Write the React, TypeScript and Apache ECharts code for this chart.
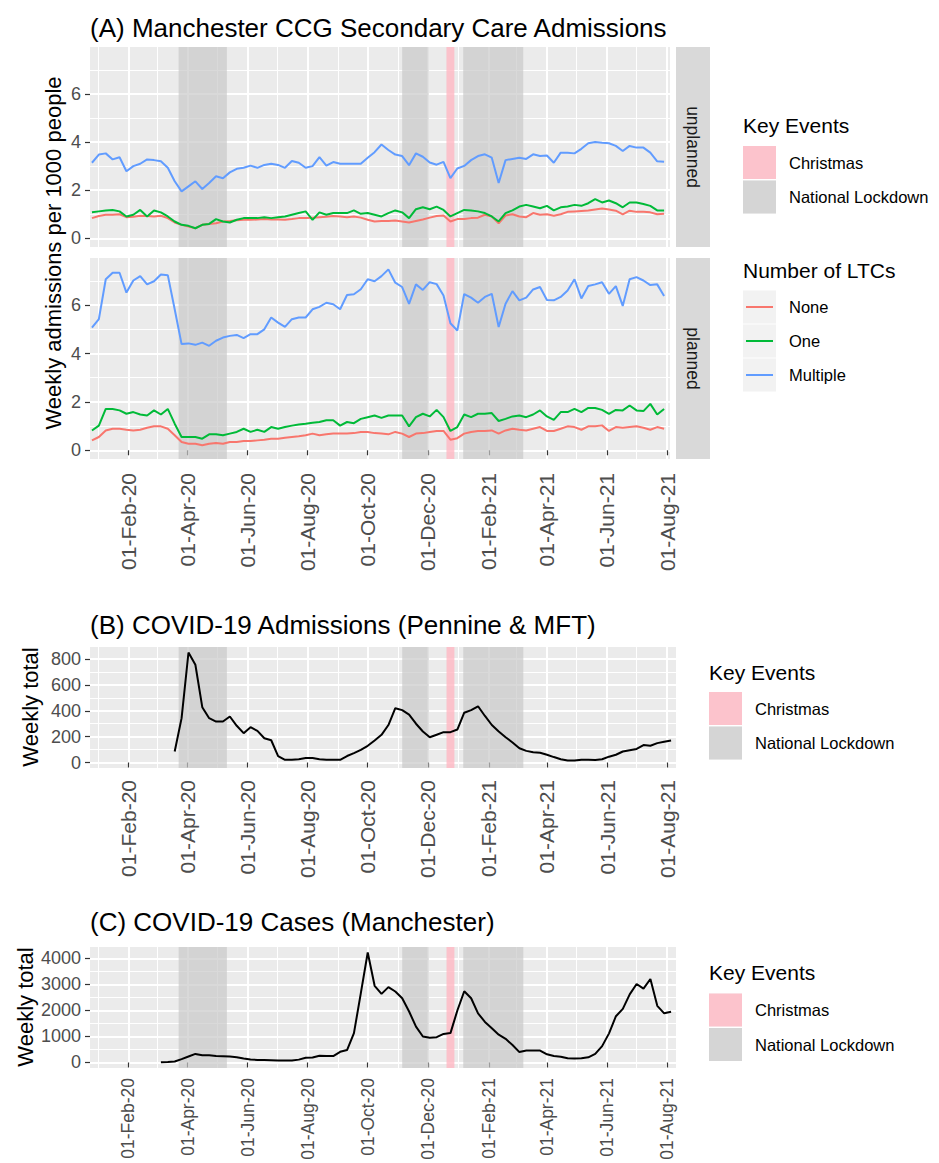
import React, { useEffect, useRef } from "react";
import * as echarts from "echarts";

const FONT = "'Liberation Sans', Arial, Helvetica, sans-serif";

// ---------- data ----------
// weekly series: first week of each series
const weekStartA = "2019-12-26";
const weekStartB = "2020-03-19";
const weekStartC = "2020-03-05";

// (A) unplanned admissions per 1000 people
const unplannedNone = [
  0.84, 0.93, 0.98, 0.98, 1.0, 0.88, 0.9, 0.94, 0.93, 0.91,
  0.94, 0.84, 0.66, 0.56, 0.49, 0.42, 0.56, 0.6, 0.63, 0.7,
  0.72, 0.75, 0.77, 0.77, 0.78, 0.8, 0.78, 0.78, 0.77, 0.8,
  0.84, 0.84, 0.86, 0.88, 0.9, 0.93, 0.91, 0.88, 0.91, 0.86,
  0.77, 0.7, 0.72, 0.72, 0.74, 0.7, 0.66, 0.72, 0.78, 0.86,
  0.93, 0.95, 0.7, 0.8, 0.8, 0.84, 0.86, 0.98, 0.91, 0.62,
  0.95, 1.0, 0.91, 0.88, 1.05, 0.98, 1.0, 0.94, 1.0, 1.1,
  1.12, 1.14, 1.16, 1.2, 1.24, 1.2, 1.15, 1.0, 1.15, 1.1,
  1.1, 1.08, 1.0, 1.02,
];
const unplannedOne = [
  1.08, 1.12, 1.16, 1.18, 1.12, 0.91, 0.98, 1.18, 0.91, 1.16,
  1.08, 0.91, 0.7, 0.56, 0.52, 0.42, 0.56, 0.6, 0.8, 0.7,
  0.66, 0.77, 0.84, 0.84, 0.84, 0.88, 0.84, 0.88, 0.91, 0.98,
  1.05, 1.12, 0.77, 1.08, 0.98, 1.05, 1.05, 1.05, 1.16, 1.02,
  1.05, 0.98, 0.91, 1.05, 1.16, 1.08, 0.84, 1.21, 1.29, 1.21,
  1.32, 1.18, 0.91, 1.05, 1.18, 1.16, 1.12, 1.05, 0.91, 0.7,
  1.05, 1.16, 1.32, 1.39, 1.32, 1.25, 1.35, 1.16, 1.29, 1.32,
  1.39, 1.35, 1.46, 1.63, 1.49, 1.57, 1.46, 1.29, 1.49, 1.49,
  1.43, 1.35, 1.16, 1.16,
];
const unplannedMultiple = [
  3.14, 3.48, 3.53, 3.28, 3.37, 2.79, 3.0, 3.1, 3.28, 3.25,
  3.2, 2.93, 2.37, 1.95, 2.16, 2.37, 2.05, 2.3, 2.58, 2.5,
  2.74, 2.89, 2.93, 3.02, 2.93, 3.05, 3.1, 3.05, 2.93, 3.21,
  3.14, 2.93, 3.0, 3.37, 3.02, 3.17, 3.1, 3.1, 3.1, 3.1,
  3.35, 3.58, 3.9, 3.67, 3.48, 3.42, 3.04, 3.53, 3.39, 3.15,
  3.06, 3.18, 2.5, 2.9, 3.01, 3.25, 3.42, 3.49, 3.35, 2.3,
  3.25, 3.3, 3.35, 3.3, 3.49, 3.42, 3.44, 3.14, 3.56, 3.56,
  3.53, 3.72, 3.95, 4.0, 3.97, 3.95, 3.84, 3.63, 3.84, 3.77,
  3.77, 3.56, 3.2, 3.18,
];

// (A) planned admissions per 1000 people
const plannedNone = [
  0.41, 0.55, 0.82, 0.89, 0.89, 0.85, 0.82, 0.85, 0.93, 0.99,
  0.99, 0.89, 0.62, 0.34, 0.27, 0.27, 0.21, 0.27, 0.3, 0.27,
  0.34, 0.34, 0.38, 0.38, 0.41, 0.44, 0.48, 0.48, 0.52, 0.55,
  0.58, 0.62, 0.69, 0.62, 0.66, 0.69, 0.69, 0.69, 0.71, 0.76,
  0.76, 0.71, 0.69, 0.66, 0.76, 0.69, 0.55, 0.69, 0.71, 0.76,
  0.8, 0.8, 0.44, 0.5, 0.69, 0.76, 0.8, 0.8, 0.82, 0.69,
  0.82, 0.89, 0.85, 0.82, 0.89, 0.96, 0.8, 0.8, 0.89, 0.99,
  0.96, 0.85, 0.99, 0.99, 1.03, 0.8, 0.96, 0.93, 0.96, 0.99,
  0.93, 0.85, 0.96, 0.89,
];
const plannedOne = [
  0.82, 1.02, 1.71, 1.71, 1.65, 1.51, 1.58, 1.48, 1.44, 1.65,
  1.48, 1.71, 1.1, 0.55, 0.55, 0.55, 0.48, 0.66, 0.66, 0.62,
  0.69, 0.76, 0.89, 0.76, 0.85, 0.76, 0.96, 0.89, 0.96, 1.02,
  1.07, 1.1, 1.14, 1.17, 1.24, 1.24, 1.02, 1.17, 1.12, 1.3,
  1.37, 1.44, 1.34, 1.44, 1.44, 1.44, 0.99, 1.37, 1.51, 1.4,
  1.67, 1.37, 0.8, 0.96, 1.48, 1.37, 1.51, 1.51, 1.54, 1.21,
  1.3, 1.4, 1.44, 1.37, 1.48, 1.65, 1.4, 1.26, 1.58, 1.58,
  1.71, 1.58, 1.75, 1.75, 1.67, 1.51, 1.67, 1.65, 1.85, 1.65,
  1.62, 1.92, 1.48, 1.71,
];
const plannedMultiple = [
  5.07, 5.42, 7.07, 7.34, 7.34, 6.52, 7.02, 7.2, 6.86, 6.99,
  7.27, 7.24, 5.83, 4.39, 4.42, 4.36, 4.45, 4.32, 4.53, 4.66,
  4.73, 4.77, 4.64, 4.8, 4.8, 5.0, 5.49, 5.28, 5.1, 5.42,
  5.49, 5.49, 5.83, 5.93, 6.1, 6.04, 5.83, 6.42, 6.45, 6.66,
  7.07, 6.99, 7.2, 7.48, 6.93, 6.75, 6.05, 6.86, 6.63, 6.95,
  6.87, 6.4, 5.25, 4.95, 6.46, 6.31, 6.1, 6.34, 6.47, 5.1,
  6.06, 6.58, 6.2, 6.31, 6.65, 6.75, 6.21, 6.2, 6.34, 6.61,
  7.07, 6.28, 6.79, 6.86, 6.95, 6.47, 6.79, 5.97, 7.07, 7.16,
  7.02, 6.83, 6.86, 6.38,
];

// (B) weekly COVID-19 admissions (Pennine & MFT)
const covidAdmissions = [
  85, 343, 851, 756, 428, 343, 317, 317, 356, 284,
  227, 273, 245, 188, 172, 50, 21, 21, 26, 34,
  34, 26, 21, 21, 21, 50, 72, 98, 129, 170,
  214, 290, 420, 405, 370, 300, 240, 195, 215, 235,
  235, 255, 385, 405, 435, 360, 290, 240, 195, 155,
  110, 90, 80, 75, 60, 42, 25, 15, 15, 22,
  22, 20, 25, 45, 60, 85, 95, 105, 135, 130,
  150, 160, 170,
];

// (C) weekly COVID-19 cases (Manchester)
const covidCases = [
  10, 20, 40, 130, 230, 330, 280, 280, 250, 240,
  230, 200, 150, 115, 100, 100, 90, 75, 75, 75,
  110, 180, 190, 260, 245, 245, 410, 480, 1130, 2670,
  4230, 2950, 2640, 2900, 2730, 2470, 1960, 1380, 1000, 950,
  975, 1100, 1130, 2000, 2740, 2470, 1890, 1560, 1320, 1070,
  910, 670, 400, 460, 460, 460, 315, 250, 220, 160,
  150, 160, 200, 330, 630, 1120, 1780, 2060, 2620, 3020,
  2840, 3210, 2180, 1890, 1950,
];

// axes
const xMajorTicks = [
  "2020-02-01", "2020-04-01", "2020-06-01", "2020-08-01", "2020-10-01",
  "2020-12-01", "2021-02-01", "2021-04-01", "2021-06-01", "2021-08-01",
];
const xMinorTicks = [
  "2020-01-01", "2020-03-01", "2020-05-01", "2020-07-01", "2020-09-01",
  "2020-11-01", "2021-01-01", "2021-03-01", "2021-05-01", "2021-07-01",
];
const xRangeA = ["2019-12-24", "2021-08-04"];
const xRangeBC = ["2019-12-24", "2021-08-10"];
const yTicksA = [0, 2, 4, 6];
const yMinorA = [1, 3, 5, 7];
const yRangeA = [-0.36, 7.95];
const yTicksB = [0, 200, 400, 600, 800];
const yMinorB = [100, 300, 500, 700];
const yRangeB = [-42.5, 893.5];
const yTicksC = [0, 1000, 2000, 3000, 4000];
const yMinorC = [500, 1500, 2500, 3500];
const yRangeC = [-212, 4442];

// key events
const christmasPeriods = [["2020-12-20", "2020-12-28"]];
const lockdownPeriods = [
  ["2020-03-23", "2020-05-11"],
  ["2020-11-05", "2020-12-02"],
  ["2021-01-06", "2021-03-08"],
];

const ltcNames = ["None", "One", "Multiple"];
const ltcColors = ["#F8766D", "#00BA38", "#619CFF"];
const eventNames = ["Christmas", "National Lockdown"];
const PINK = "rgba(255,182,193,0.78)";
const LOCK = "rgba(201,201,201,0.7)";
const eventColors = [PINK, LOCK];
const facetNames = ["unplanned", "planned"];

const titles = [
  "(A) Manchester CCG Secondary Care Admissions",
  "(B) COVID-19 Admissions (Pennine & MFT)",
  "(C) COVID-19 Cases (Manchester)",
];
const yTitles = ["Weekly admissions per 1000 people", "Weekly total", "Weekly total"];

// ---------- helpers ----------
const DAY = 86400000;
const t = (s: string) => Date.parse(s + "T00:00:00Z");
const weekly = (start: string, values: number[]) =>
  values.map((v, i) => [t(start) + i * 7 * DAY, v]);
const MONTHS = ["Jan", "Feb", "Mar", "Apr", "May", "Jun", "Jul", "Aug", "Sep", "Oct", "Nov", "Dec"];
const fmtDate = (v: number) => {
  const d = new Date(v);
  return `${String(d.getUTCDate()).padStart(2, "0")}-${MONTHS[d.getUTCMonth()]}-${String(
    d.getUTCFullYear() % 100
  ).padStart(2, "0")}`;
};

function buildOption() {
  const panels = [
    { left: 90, top: 47, width: 580, height: 200, xr: xRangeA, yr: yRangeA, yt: yTicksA, ym: yMinorA, xLabels: false, margin: 14, xFont: 21 },
    { left: 90, top: 258, width: 580, height: 201, xr: xRangeA, yr: yRangeA, yt: yTicksA, ym: yMinorA, xLabels: true, margin: 14, xFont: 21 },
    { left: 90, top: 647, width: 586, height: 121, xr: xRangeBC, yr: yRangeB, yt: yTicksB, ym: yMinorB, xLabels: true, margin: 12, xFont: 21 },
    { left: 90, top: 947, width: 586, height: 121, xr: xRangeBC, yr: yRangeC, yt: yTicksC, ym: yMinorC, xLabels: true, margin: 10, xFont: 17.5 },
  ];

  const grid: any[] = [];
  const xAxis: any[] = [];
  const yAxis: any[] = [];
  const series: any[] = [];

  panels.forEach((p, g) => {
    grid.push({
      left: p.left, top: p.top, width: p.width, height: p.height,
      show: true, backgroundColor: "#EBEBEB", borderWidth: 0,
      containLabel: false, outerBoundsMode: "none",
    });
    const majorX = xMajorTicks.map(t);
    const minorX = xMinorTicks.map(t);
    xAxis.push({
      type: "value", gridIndex: g, min: t(p.xr[0]), max: t(p.xr[1]), position: "bottom",
      axisLine: { show: false },
      axisTick: { show: p.xLabels, length: 5, lineStyle: { color: "#333333", width: 1.2 }, customValues: majorX },
      axisLabel: {
        show: p.xLabels, customValues: majorX, rotate: 90, margin: p.margin, formatter: fmtDate,
        color: "#4D4D4D", fontSize: p.xFont, fontFamily: FONT,
      },
      splitLine: { show: true, lineStyle: { color: "#FFFFFF", width: 2 } },
    });
    xAxis.push({
      type: "value", gridIndex: g, min: t(p.xr[0]), max: t(p.xr[1]), position: "bottom",
      axisLine: { show: false },
      axisTick: { show: false, customValues: minorX },
      axisLabel: { show: false, customValues: minorX },
      splitLine: { show: true, lineStyle: { color: "#FFFFFF", width: 1 } },
    });
    yAxis.push({
      type: "value", gridIndex: g, min: p.yr[0], max: p.yr[1], position: "left",
      axisLine: { show: false },
      axisTick: { show: true, length: 5, lineStyle: { color: "#333333", width: 1.2 }, customValues: p.yt },
      axisLabel: {
        show: true, customValues: p.yt, margin: 9, color: "#4D4D4D", fontSize: 18, fontFamily: FONT,
        formatter: (v: number) => String(v),
      },
      splitLine: { show: true, lineStyle: { color: "#FFFFFF", width: 2 } },
    });
    yAxis.push({
      type: "value", gridIndex: g, min: p.yr[0], max: p.yr[1], position: "left",
      axisLine: { show: false },
      axisTick: { show: false, customValues: p.ym },
      axisLabel: { show: false, customValues: p.ym },
      splitLine: { show: true, lineStyle: { color: "#FFFFFF", width: 1 } },
    });
    // key event shading
    series.push({
      type: "line", xAxisIndex: 2 * g, yAxisIndex: 2 * g, data: [], silent: true, z: 1,
      markArea: {
        silent: true,
        data: [
          ...christmasPeriods.map(([a, b]) => [{ xAxis: t(a), itemStyle: { color: PINK } }, { xAxis: t(b) }]),
          ...lockdownPeriods.map(([a, b]) => [{ xAxis: t(a), itemStyle: { color: LOCK } }, { xAxis: t(b) }]),
        ],
      },
    });
  });

  const lineSeries = (g: number, data: number[][], color: string, name: string) => ({
    type: "line", name, xAxisIndex: 2 * g, yAxisIndex: 2 * g, data, showSymbol: false, symbol: "none",
    lineStyle: { color, width: 2 }, itemStyle: { color }, silent: true, z: 3,
  });

  const unplanned = [unplannedNone, unplannedOne, unplannedMultiple];
  const planned = [plannedNone, plannedOne, plannedMultiple];
  unplanned.forEach((vals, k) => series.push(lineSeries(0, weekly(weekStartA, vals), ltcColors[k], ltcNames[k])));
  planned.forEach((vals, k) => series.push(lineSeries(1, weekly(weekStartA, vals), ltcColors[k], ltcNames[k])));
  series.push(lineSeries(2, weekly(weekStartB, covidAdmissions), "#000000", "Admissions"));
  series.push(lineSeries(3, weekly(weekStartC, covidCases), "#000000", "Cases"));

  // ---------- graphic: titles, axis titles, strips, legends ----------
  const txt = (x: number, y: number, text: string, size: number, color = "#000000", align = "left", rotation = 0) => ({
    type: "text", x, y, rotation, silent: true,
    style: {
      text, fill: color, fontSize: size, fontFamily: FONT,
      align, verticalAlign: "middle", textAlign: align, textVerticalAlign: "middle",
    },
  });
  const graphic: any[] = [];
  const titleY = [28, 625, 922];
  titles.forEach((s, i) => graphic.push(txt(90, titleY[i], s, 26)));
  const yTitlePos = [[53, 253], [30, 707], [25, 1007]];
  yTitles.forEach((s, i) => graphic.push(txt(yTitlePos[i][0], yTitlePos[i][1], s, 22, "#000000", "center", Math.PI / 2)));

  // facet strips
  const stripTops = [47, 258];
  const stripHeights = [200, 201];
  facetNames.forEach((s, i) => {
    graphic.push({ type: "rect", silent: true, shape: { x: 676, y: stripTops[i], width: 34, height: stripHeights[i] }, style: { fill: "#D9D9D9" } });
    graphic.push(txt(693, stripTops[i] + stripHeights[i] / 2, s, 17.5, "#1A1A1A", "center", -Math.PI / 2));
  });

  // key events legends
  const eventLegends = [
    { x: 743, titleY: 125, keyTop: 146 },
    { x: 709, titleY: 672, keyTop: 692 },
    { x: 709, titleY: 972, keyTop: 993.5 },
  ];
  eventLegends.forEach((L) => {
    graphic.push(txt(L.x, L.titleY, "Key Events", 21));
    eventNames.forEach((name, j) => {
      const y = L.keyTop + j * 34.5;
      graphic.push({ type: "rect", silent: true, shape: { x: L.x, y, width: 33, height: 33 }, style: { fill: "#F2F2F2" } });
      graphic.push({ type: "rect", silent: true, shape: { x: L.x, y, width: 33, height: 33 }, style: { fill: eventColors[j] } });
      graphic.push(txt(L.x + 46, y + 16.5, name, 16.5));
    });
  });

  // number of LTCs legend
  graphic.push(txt(743, 270, "Number of LTCs", 21));
  ltcNames.forEach((name, j) => {
    const y = 290.5 + j * 34;
    graphic.push({ type: "rect", silent: true, shape: { x: 743, y, width: 33, height: 33 }, style: { fill: "#F2F2F2" } });
    graphic.push({ type: "line", silent: true, shape: { x1: 746, y1: y + 16.5, x2: 773, y2: y + 16.5 }, style: { stroke: ltcColors[j], lineWidth: 2 } });
    graphic.push(txt(789, y + 16.5, name, 16.5));
  });

  return {
    animation: false,
    backgroundColor: "#FFFFFF",
    textStyle: { fontFamily: FONT },
    grid, xAxis, yAxis, series, graphic,
  };
}

export default function App() {
  const ref = useRef<HTMLDivElement>(null);
  useEffect(() => {
    if (!ref.current) return;
    const chart = echarts.init(ref.current, null, { renderer: "svg" });
    chart.setOption(buildOption() as any);
    return () => chart.dispose();
  }, []);
  return (
    <div
      ref={ref}
      style={{ position: "fixed", left: 0, top: 0, width: 939, height: 1163, background: "#FFFFFF" }}
    />
  );
}
